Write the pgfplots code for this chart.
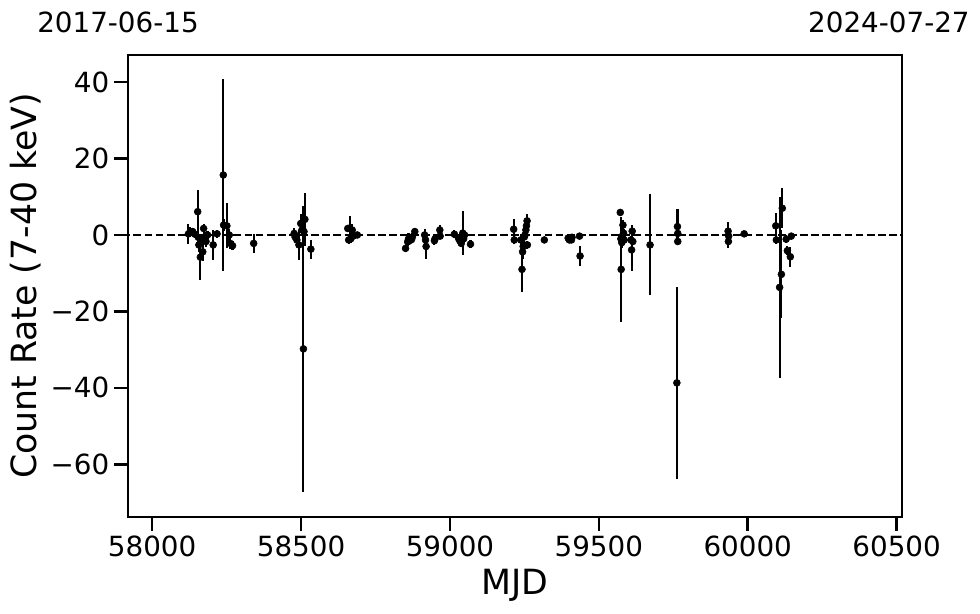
\documentclass[border=0pt]{standalone}
\usepackage{pgfplots}
\usepackage{pgfplotstable}
\pgfplotsset{compat=1.18}
\usepackage{fontspec}
\setmainfont{DejaVu Sans}

% light curve: MJD, count rate, 1-sigma error
\pgfplotstableread{
mjd rate err
58122 0.3 2.6
58128 0.8 1.2
58136 0.9 1.0
58144 0.2 1.0
58153 6.1 5.8
58155 -0.6 1.5
58157 -2.6 1.8
58162 -5.8 6.0
58166 -1.5 1.2
58170 -4.4 2.5
58173 1.7 1.2
58176 -0.6 1.0
58181 -1.7 1.5
58186 0.0 1.0
58205 -2.6 3.9
58218 0.3 1.0
58239 15.7 25.0
58240 2.6 1.5
58251 2.4 5.9
58259 0.0 1.5
58262 -2.2 1.5
58270 -2.8 1.2
58341 -2.2 2.5
58477 0.4 1.5
58480 -0.5 1.2
58486 -1.3 1.0
58493 -2.6 4.0
58499 3.0 2.5
58503 1.3 1.5
58508 -29.8 37.5
58510 0.9 1.5
58513 4.1 7.0
58533 -3.7 2.5
58657 1.7 1.0
58660 -1.3 1.0
58663 1.8 3.2
58667 -1.0 1.0
58672 1.3 1.5
58675 -0.3 1.0
58689 0.0 0.8
58851 -3.5 1.0
58858 -1.8 1.0
58861 -1.0 1.5
58864 -1.5 1.0
58868 -0.8 1.0
58871 -1.2 0.8
58874 -0.5 1.0
58882 0.9 1.0
58915 0.0 1.5
58918 -1.3 1.0
58920 -3.0 3.4
58948 -1.5 1.0
58950 -1.0 0.8
58966 1.3 1.2
58967 -0.3 0.8
59015 0.2 1.0
59029 -0.9 1.0
59033 -1.5 1.0
59038 -2.2 1.0
59043 0.5 5.8
59046 -1.0 1.0
59049 0.0 1.0
59069 -2.4 1.0
59214 1.5 2.6
59216 -1.3 1.0
59238 -1.3 1.5
59242 -9.0 6.0
59244 -4.4 2.0
59246 -3.0 2.0
59249 -2.6 1.5
59250 -0.5 1.0
59252 0.0 1.0
59255 1.3 1.5
59257 2.4 1.5
59259 3.7 1.7
59260 -2.6 1.0
59317 -1.3 0.8
59397 -0.8 0.8
59401 -1.3 0.8
59404 -1.0 0.8
59408 -1.3 0.8
59410 -0.6 0.8
59435 -0.3 0.6
59437 -5.5 2.6
59572 5.9 1.0
59574 -1.0 1.5
59575 -9.0 13.7
59577 -2.0 1.5
59579 -0.3 1.0
59581 2.6 1.2
59583 0.5 1.0
59585 -1.3 1.0
59608 -1.3 1.0
59610 -3.9 5.4
59612 1.0 1.5
59614 -1.7 1.0
59672 -2.6 13.2
59762 -38.7 25.2
59764 2.2 4.5
59765 0.4 1.0
59765 -1.7 1.0
59934 1.0 2.5
59935 -1.7 1.8
59936 -0.3 1.0
59988 0.3 0.6
60094 2.4 3.3
60096 -1.3 1.0
60107 -13.7 23.7
60113 -10.3 11.5
60116 7.0 5.2
60129 -1.1 1.0
60133 -4.1 1.2
60143 -5.7 2.6
60146 -0.3 0.8
}\lc

\begin{document}
\begin{tikzpicture}
\begin{axis}[
  name=ax, at={(0,0)}, anchor=south west,
  scale only axis, width=557.28pt, height=332.64pt,
  xmin=57919, xmax=60518, ymin=-73.8, ymax=47.1,
  axis line style={line width=0.8pt},
  tick align=outside, xtick pos=bottom, ytick pos=left,
  major tick length=10pt,
  major tick style={black, line width=1.8pt},
  scaled x ticks=false, scaled y ticks=false,
  xtick={58000,58500,...,60500},
  xticklabels={58000,58500,59000,59500,60000,60500},
  ytick={-60,-40,...,40},
  yticklabels={−60,−40,−20,0,20,40},
  tick label style={font=\fontsize{20}{24}\selectfont},
  label style={font=\fontsize{25}{30}\selectfont},
  xlabel={MJD}, ylabel={Count Rate (7-40 keV)},
  xlabel style={yshift=-2pt},
  clip=true,
]
\addplot[black, line width=1.5pt, dash pattern=on 5.6pt off 2.4pt, forget plot]
  coordinates {(57900,0) (60600,0)};
\addplot[only marks, black, mark=*, mark size=2.5pt,
  error bars/.cd, y dir=both, y explicit, error mark=none,
  error bar style={line width=1.5pt}]
  table[x=mjd, y=rate, y error=err] {\lc};
\end{axis}
\node[anchor=base, font=\fontsize{20}{24}\selectfont] at ([xshift=-7.2pt, yshift=16.56pt]ax.north west) {2017-06-15};
\node[anchor=base, font=\fontsize{20}{24}\selectfont] at ([xshift=-9.4pt, yshift=16.56pt]ax.north east) {2024-07-27};
\pgfresetboundingbox
\path (-92.16pt,-69.12pt) rectangle (613.44pt,372.24pt);
\end{tikzpicture}
\end{document}
